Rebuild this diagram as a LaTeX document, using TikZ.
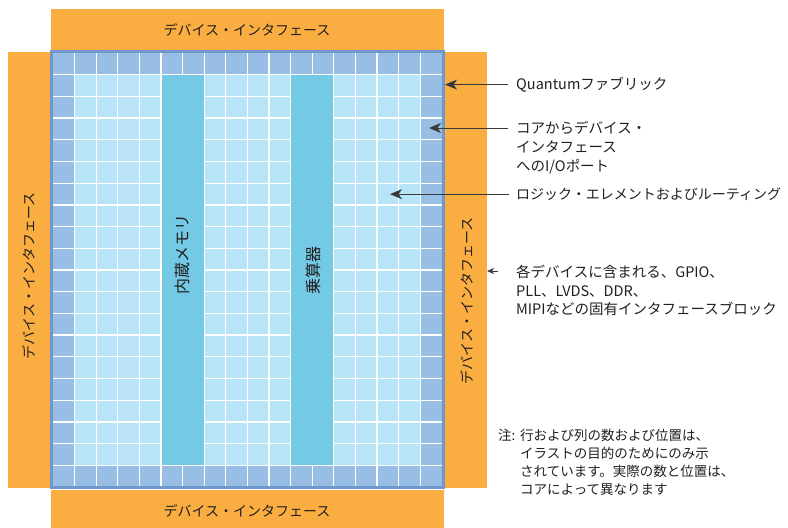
\documentclass[tikz,border=0pt]{standalone}
\usepackage{fontspec}
\setmainfont{Noto Sans CJK JP}
\usetikzlibrary{arrows.meta}
\definecolor{orng}{HTML}{FAAE42}
\definecolor{edgecell}{HTML}{99BEE6}
\definecolor{incell}{HTML}{B8E4F8}
\definecolor{blk}{HTML}{74C9E5}
\definecolor{framec}{HTML}{6F98CC}
\definecolor{arr}{HTML}{3A3A3A}
\definecolor{txt}{HTML}{231F20}
\tikzset{
  bar/.style={fill=orng},
  barlbl/.style={text=txt, font=\fontsize{14}{14}\selectfont, inner sep=0pt},
  blklbl/.style={text=txt, font=\fontsize{16}{16}\selectfont, inner sep=0pt, rotate=90},
  lbl/.style={text=txt, font=\fontsize{14.5}{19}\selectfont, inner sep=0pt, anchor=base west},
  conn/.style={draw=arr, line width=1pt, -{Stealth[length=12pt,width=10pt,inset=3.5pt]}},
  sconn/.style={draw=arr, line width=1pt, -{Stealth[length=7pt,width=6pt,inset=2pt]}},
  gridline/.style={draw=white, line width=1.3pt}
}
\begin{document}
\begin{tikzpicture}[x=1pt,y=-1pt]
\useasboundingbox (0,0) rectangle (788,528);
% orange device interface bars
\fill[bar] (51,9) rectangle (444,51);
\fill[bar] (8,52) rectangle (51,488);
\fill[bar] (444,52) rectangle (487,488);
\fill[bar] (51,490) rectangle (444,529);
% cells
\fill[edgecell] (53,53) rectangle (442,487);
\fill[incell] (74.6,74.7) rectangle (420.2,465.3);
\foreach \i in {1,...,17} \draw[gridline] ({53+\i*21.6},53) -- ({53+\i*21.6},487);
\foreach \j in {1,...,19} \draw[gridline] (53,{53+\j*21.7}) -- (442,{53+\j*21.7});
% memory and multiplier columns
\fill[blk] ({53+5*21.6+0.7},{74.7+0.7}) rectangle ({53+7*21.6-0.7},{465.3-0.7});
\fill[blk] ({53+11*21.6+0.7},{74.7+0.7}) rectangle ({53+13*21.6-0.7},{465.3-0.7});
% frame
\draw[framec, line width=3pt] (51.3,51.3) rectangle (443.6,487.8);
% block labels
\node[blklbl] (mem) at (182,254) {内蔵メモリ};
\node[blklbl] (mul) at (313,270) {乗算器};
% bar labels
\node[barlbl] (itop) at (247,30) {デバイス・インタフェース};
\node[barlbl] (ibot) at (247,511) {デバイス・インタフェース};
\node[barlbl, rotate=90] (ileft) at (29,276) {デバイス・インタフェース};
\node[barlbl, rotate=90] (iright) at (467,301) {デバイス・インタフェース};
% right labels
\node[lbl] (q) at (516,89.5) {Quantumファブリック};
\node[lbl] (io) at (516,133.5) {\begin{tabular}[t]{@{}l@{}}コアからデバイス・\\インタフェース\\へのI/Oポート\end{tabular}};
\node[lbl, font=\fontsize{14}{19}\selectfont] (le) at (516,199.5) {ロジック・エレメントおよびルーティング};
\node[lbl, font=\fontsize{14.5}{18.5}\selectfont] (gp) at (516,277.5) {\begin{tabular}[t]{@{}l@{}}各デバイスに含まれる、GPIO、\\PLL、LVDS、DDR、\\MIPIなどの固有インタフェースブロック\end{tabular}};
\node[lbl, font=\fontsize{13.5}{18}\selectfont] (note) at (498,440) {\begin{tabular}[t]{@{}l@{}l@{}}\makebox[22pt][l]{注:} & 行および列の数および位置は、\\ & イラストの目的のためにのみ示\\ & されています。実際の数と位置は、\\ & コアによって異なります\end{tabular}};
% connectors
\coordinate (t1) at (445,84);
\coordinate (s2) at (508,128);
\coordinate (t2) at (429,128);
\coordinate (t3) at (390,194);
\coordinate (s4) at (498,271);
\coordinate (t4) at (487,271);
\draw[conn] ([xshift=-8pt]q.west) -- (q.west -| t1);
\draw[conn] (s2) -- (t2);
\draw[conn] ([xshift=-7pt]le.west) -- (le.west -| t3);
\draw[sconn] (s4) -- (t4);
\end{tikzpicture}
\end{document}
